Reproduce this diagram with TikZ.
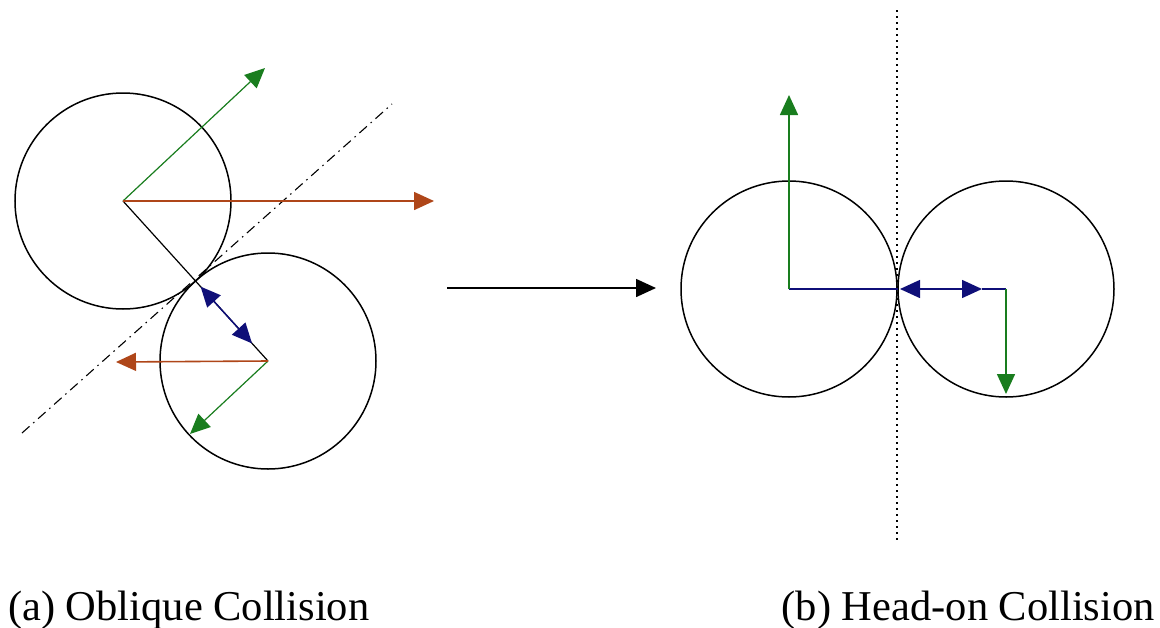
\documentclass[tikz,border=0pt]{standalone}
\usepackage{fontspec}
\setmainfont{Liberation Serif}
\usepackage{tikz}
\usetikzlibrary{arrows.meta, positioning, calc}
\definecolor{ballgreen}{RGB}{25, 125, 30}
\definecolor{ballrust}{RGB}{175, 70, 25}
\definecolor{ballnavy}{RGB}{15, 15, 120}

\begin{document}
\begin{tikzpicture}[x=1pt, y=-1pt, >={Triangle[length=20pt, width=18pt]},
    ball/.style={draw, circle, line width=1.5pt, minimum size=216pt, inner sep=0pt},
    vec/.style={->, line width=1.2pt},
    caption/.style={font=\fontsize{42.5}{48}\selectfont, inner sep=0pt}]
    \useasboundingbox (0,0) rectangle (1160,627);
    % oblique collision
    \node[ball] (ballA) at (123,201) {};
    \node[ball] (ballB) at (268,361) {};
    \coordinate (hitA) at ($(ballA.center)!0.5!(ballB.center)$);
    \coordinate (impA1) at ($(hitA)!0.07!(ballB.center)$);
    \coordinate (impA2) at ($(hitA)!0.78!(ballB.center)$);
    \coordinate (tanLow) at (22,433);
    \coordinate (tanHigh) at (392,104);
    \coordinate (velA) at (265,68);
    \coordinate (pushA) at (434,201);
    \coordinate (velB) at (190,434);
    \coordinate (pushB) at (116,362);
    \draw[dash pattern=on 10pt off 5pt on 1.5pt off 5pt, line width=1.1pt] (tanLow) -- (tanHigh);
    \draw[line width=1.2pt] (ballA.center) -- (ballB.center);
    \draw[<->, ballnavy, line width=1.5pt] (impA1) -- (impA2);
    \draw[vec, ballgreen] (ballA.center) -- (velA);
    \draw[vec, ballrust, line width=1.6pt] (ballA.center) -- (pushA);
    \draw[vec, ballgreen] (ballB.center) -- (velB);
    \draw[vec, ballrust, line width=1.6pt] (ballB.center) -- (pushB);
    % transition arrow
    \coordinate (goL) at (447,288);
    \coordinate (goR) at (656,288);
    \draw[vec, line width=1.6pt] (goL) -- (goR);
    % head-on collision
    \node[ball] (ballC) at (789,289) {};
    \node[ball] (ballD) at (1006,289) {};
    \coordinate (hitB) at ($(ballC.center)!0.5!(ballD.center)$);
    \coordinate (lineTop) at (897,10);
    \coordinate (lineBot) at (897,540);
    \coordinate (velC) at (789,95);
    \coordinate (impB1) at (900,289);
    \coordinate (impB2) at (982,289);
    \coordinate (velD) at (1006,394);
    \draw[dash pattern=on 1.5pt off 4.5pt, line width=1.3pt] (lineTop) -- (lineBot);
    \draw[ballnavy, line width=1.5pt] (ballC.center) -- (hitB);
    \draw[<->, ballnavy, line width=1.5pt] (impB1) -- (impB2);
    \draw[ballnavy, line width=1.5pt] (impB2) -- (ballD.center);
    \draw[vec, ballgreen, line width=1.6pt] (ballC.center) -- (velC);
    \draw[vec, ballgreen, line width=1.6pt] (ballD.center) -- (velD);
    % captions
    \node[caption, anchor=base west] (capA) at (8,620) {(a) Oblique Collision};
    \node[caption, anchor=base east] (capB) at (1155,620) {(b) Head-on Collision};
\end{tikzpicture}
\end{document}
